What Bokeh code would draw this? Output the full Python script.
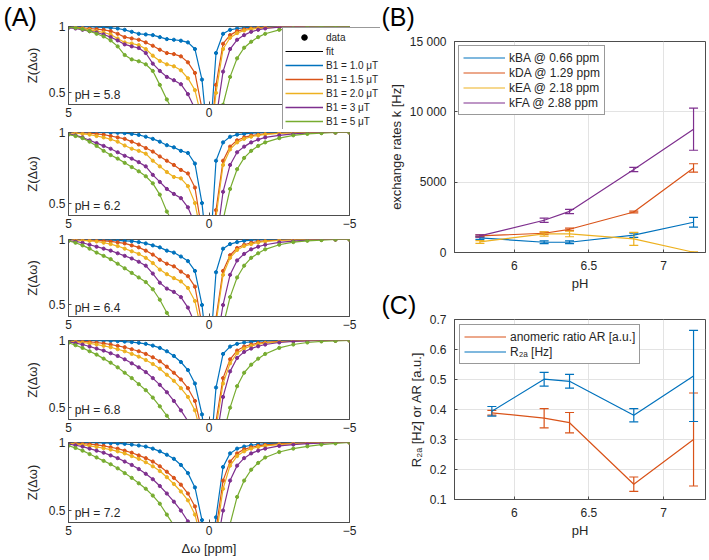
from bokeh.plotting import figure
from bokeh.layouts import row, column
from bokeh.models import (Range1d, Label, Legend, LegendItem, Whisker, TeeHead,
                          ColumnDataSource, FixedTicker)
from bokeh.embed import file_html
from bokeh.resources import INLINE

FONT = "Liberation Sans"
TXT = "#262626"
AXC = "#4d4d4d"

# ---------------- Panel A data ----------------
OFFSETS = [5, 4.75, 4.5, 4.25, 4, 3.75, 3.5, 3.25, 3, 2.75, 2.5, 2.25, 2, 1.75, 1.5,
           1.25, 1, 0.75, 0.5, 0.25, 0,
           -0.25, -0.5, -0.75, -1, -1.25, -1.5, -1.75, -2, -2.5, -3, -3.5, -4, -4.5, -5]
PH_LABELS = ["pH = 5.8", "pH = 6.2", "pH = 6.4", "pH = 6.8", "pH = 7.2"]
B1_LABELS = ["B1 = 1.0 μT", "B1 = 1.5 μT", "B1 = 2.0 μT", "B1 = 3 μT", "B1 = 5 μT"]
COLORS = ["#0072BD", "#D95319", "#EDB120", "#7E2F8E", "#77AC30"]

Z_PH58 = [
    [1.0, 1.0, 1.0, 0.998, 0.995, 0.993, 0.99, 0.985, 0.975, 0.96, 0.945, 0.94, 0.935, 0.92, 0.905, 0.9, 0.893, 0.88, 0.83, 0.6, 0.05,
     0.8, 0.945, 0.975, 0.985, 0.99, 0.995, 0.997, 1.0, 1, 1, 1, 1, 1, 1],
    [0.998, 0.995, 0.99, 0.985, 0.98, 0.975, 0.965, 0.945, 0.92, 0.91, 0.9, 0.88, 0.855, 0.825, 0.8, 0.792, 0.775, 0.73, 0.65, 0.38, 0.03,
     0.56, 0.87, 0.935, 0.965, 0.978, 0.987, 0.992, 0.995, 0.998, 1, 1, 1, 1, 1],
    [0.995, 0.99, 0.985, 0.975, 0.965, 0.955, 0.94, 0.91, 0.88, 0.872, 0.86, 0.83, 0.78, 0.74, 0.715, 0.7, 0.67, 0.61, 0.52, 0.3, 0.02,
     0.5, 0.83, 0.915, 0.95, 0.97, 0.98, 0.986, 0.99, 0.995, 0.998, 1, 1, 1, 1],
    [0.99, 0.985, 0.975, 0.965, 0.955, 0.94, 0.92, 0.895, 0.865, 0.85, 0.838, 0.8, 0.72, 0.665, 0.62, 0.595, 0.565, 0.49, 0.38, 0.2, 0.02,
     0.3, 0.66, 0.83, 0.9, 0.935, 0.96, 0.975, 0.985, 0.995, 0.998, 1, 1, 1, 1],
    [0.995, 0.99, 0.98, 0.965, 0.945, 0.925, 0.895, 0.85, 0.785, 0.752, 0.738, 0.715, 0.665, 0.56, 0.45, 0.35, 0.27, 0.2, 0.12, 0.06, 0.02,
     0.2, 0.41, 0.62, 0.76, 0.84, 0.885, 0.92, 0.945, 0.975, 0.99, 0.995, 1, 1, 1],
]
Z_PH62 = [
    [1, 1, 1, 1, 1, 1, 0.999, 0.998, 0.995, 0.99, 0.983, 0.97, 0.955, 0.935, 0.91, 0.895, 0.87, 0.855, 0.78, 0.5, 0.03,
     0.8, 0.93, 0.97, 0.985, 0.99, 0.995, 0.997, 1, 1, 1, 1, 1, 1, 1],
    [1.0, 0.998, 0.997, 0.995, 0.99, 0.985, 0.975, 0.965, 0.955, 0.935, 0.915, 0.89, 0.865, 0.83, 0.8, 0.77, 0.735, 0.71, 0.61, 0.3, 0.02,
     0.45, 0.8, 0.9, 0.945, 0.965, 0.978, 0.985, 0.99, 0.996, 1, 1, 1, 1, 1],
    [0.998, 0.995, 0.99, 0.985, 0.975, 0.965, 0.952, 0.935, 0.908, 0.885, 0.87, 0.85, 0.8, 0.76, 0.72, 0.685, 0.675, 0.62, 0.5, 0.25, 0.02,
     0.4, 0.77, 0.88, 0.93, 0.955, 0.97, 0.98, 0.987, 0.994, 0.998, 1, 1, 1, 1],
    [0.99, 0.98, 0.965, 0.945, 0.925, 0.905, 0.885, 0.86, 0.835, 0.815, 0.79, 0.76, 0.7, 0.65, 0.6, 0.565, 0.535, 0.47, 0.35, 0.15, 0.01,
     0.2, 0.58, 0.77, 0.86, 0.9, 0.93, 0.95, 0.965, 0.98, 0.99, 0.995, 1, 1, 1],
    [0.985, 0.975, 0.96, 0.935, 0.905, 0.87, 0.84, 0.815, 0.785, 0.755, 0.725, 0.69, 0.64, 0.56, 0.44, 0.35, 0.27, 0.2, 0.12, 0.06, 0.02,
     0.15, 0.38, 0.6, 0.74, 0.82, 0.87, 0.905, 0.93, 0.96, 0.98, 0.99, 0.995, 1, 1],
]
Z_PH64 = [
    [1, 1, 1, 1, 0.998, 0.997, 0.995, 0.993, 0.99, 0.987, 0.98, 0.97, 0.955, 0.94, 0.915, 0.9, 0.87, 0.835, 0.76, 0.5, 0.03,
     0.75, 0.93, 0.965, 0.98, 0.99, 0.995, 0.997, 1, 1, 1, 1, 1, 1, 1],
    [1, 0.999, 0.997, 0.995, 0.993, 0.99, 0.985, 0.978, 0.97, 0.955, 0.94, 0.915, 0.885, 0.845, 0.815, 0.795, 0.755, 0.72, 0.64, 0.35, 0.02,
     0.4, 0.76, 0.88, 0.935, 0.96, 0.975, 0.985, 0.99, 0.996, 1, 1, 1, 1, 1],
    [0.998, 0.996, 0.993, 0.99, 0.985, 0.975, 0.965, 0.95, 0.93, 0.91, 0.89, 0.86, 0.82, 0.77, 0.735, 0.705, 0.68, 0.63, 0.53, 0.28, 0.02,
     0.36, 0.73, 0.86, 0.92, 0.95, 0.965, 0.977, 0.985, 0.993, 0.997, 1, 1, 1, 1],
    [0.99, 0.985, 0.975, 0.96, 0.945, 0.93, 0.915, 0.895, 0.875, 0.855, 0.83, 0.8, 0.74, 0.67, 0.625, 0.6, 0.56, 0.48, 0.36, 0.16, 0.01,
     0.18, 0.5, 0.73, 0.84, 0.89, 0.925, 0.945, 0.96, 0.978, 0.988, 0.995, 1, 1, 1],
    [0.99, 0.975, 0.955, 0.93, 0.9, 0.875, 0.85, 0.815, 0.78, 0.745, 0.71, 0.675, 0.62, 0.54, 0.44, 0.36, 0.28, 0.2, 0.12, 0.06, 0.02,
     0.12, 0.34, 0.56, 0.71, 0.8, 0.86, 0.895, 0.925, 0.96, 0.98, 0.99, 0.995, 1, 1],
]
Z_PH68 = [
    [1, 1, 1, 1, 0.999, 0.998, 0.997, 0.995, 0.992, 0.988, 0.983, 0.975, 0.962, 0.945, 0.92, 0.885, 0.84, 0.78, 0.68, 0.45, 0.03,
     0.65, 0.9, 0.955, 0.975, 0.985, 0.99, 0.995, 0.997, 1, 1, 1, 1, 1, 1],
    [0.998, 0.996, 0.993, 0.99, 0.985, 0.978, 0.97, 0.96, 0.95, 0.935, 0.92, 0.9, 0.875, 0.845, 0.805, 0.76, 0.71, 0.645, 0.55, 0.33, 0.02,
     0.4, 0.72, 0.86, 0.925, 0.955, 0.97, 0.98, 0.986, 0.993, 0.997, 1, 1, 1, 1],
    [0.995, 0.99, 0.985, 0.978, 0.97, 0.96, 0.95, 0.935, 0.92, 0.9, 0.88, 0.855, 0.825, 0.79, 0.745, 0.7, 0.645, 0.58, 0.48, 0.28, 0.02,
     0.35, 0.68, 0.83, 0.905, 0.94, 0.96, 0.972, 0.98, 0.99, 0.995, 1, 1, 1, 1],
    [0.99, 0.98, 0.97, 0.955, 0.94, 0.925, 0.905, 0.885, 0.86, 0.83, 0.8, 0.765, 0.72, 0.67, 0.615, 0.55, 0.48, 0.4, 0.3, 0.15, 0.01,
     0.25, 0.58, 0.77, 0.87, 0.915, 0.94, 0.957, 0.97, 0.985, 0.993, 0.997, 1, 1, 1],
    [0.983, 0.965, 0.945, 0.92, 0.895, 0.865, 0.835, 0.8, 0.76, 0.72, 0.675, 0.63, 0.575, 0.51, 0.44, 0.37, 0.29, 0.21, 0.13, 0.06, 0.02,
     0.1, 0.3, 0.5, 0.66, 0.76, 0.82, 0.865, 0.9, 0.945, 0.97, 0.985, 0.993, 0.997, 1],
]
Z_PH72 = [
    [1, 1, 1, 0.999, 0.998, 0.997, 0.995, 0.993, 0.99, 0.985, 0.978, 0.97, 0.955, 0.935, 0.91, 0.88, 0.835, 0.775, 0.67, 0.43, 0.03,
     0.45, 0.82, 0.92, 0.955, 0.97, 0.98, 0.987, 0.99, 0.995, 1, 1, 1, 1, 1],
    [0.997, 0.995, 0.992, 0.988, 0.982, 0.975, 0.965, 0.955, 0.94, 0.925, 0.905, 0.885, 0.86, 0.825, 0.785, 0.74, 0.69, 0.625, 0.53, 0.32, 0.02,
     0.36, 0.72, 0.86, 0.92, 0.95, 0.965, 0.975, 0.982, 0.99, 0.995, 1, 1, 1, 1],
    [0.993, 0.988, 0.982, 0.975, 0.967, 0.958, 0.948, 0.935, 0.92, 0.9, 0.88, 0.855, 0.825, 0.79, 0.745, 0.695, 0.64, 0.575, 0.47, 0.27, 0.02,
     0.3, 0.66, 0.83, 0.9, 0.935, 0.955, 0.967, 0.975, 0.985, 0.992, 0.996, 1, 1, 1],
    [0.988, 0.98, 0.97, 0.955, 0.94, 0.925, 0.905, 0.885, 0.86, 0.835, 0.805, 0.77, 0.73, 0.68, 0.625, 0.565, 0.5, 0.42, 0.31, 0.15, 0.01,
     0.2, 0.5, 0.72, 0.83, 0.885, 0.92, 0.94, 0.955, 0.975, 0.985, 0.992, 0.996, 1, 1],
    [0.976, 0.96, 0.94, 0.915, 0.89, 0.865, 0.84, 0.81, 0.775, 0.74, 0.7, 0.66, 0.61, 0.55, 0.47, 0.39, 0.31, 0.23, 0.14, 0.07, 0.02,
     0.06, 0.22, 0.4, 0.6, 0.72, 0.8, 0.85, 0.89, 0.93, 0.955, 0.972, 0.985, 0.993, 1.0],
]
Z_ALL = [Z_PH58, Z_PH62, Z_PH64, Z_PH68, Z_PH72]

# ---------------- Panel B data ----------------
PH_B = [5.77, 6.2, 6.37, 6.8, 7.2]
K_LABELS = ["kBA @ 0.66 ppm", "kDA @ 1.29 ppm", "kEA @ 2.18 ppm", "kFA @ 2.88 ppm"]
KBA = [1040, 730, 730, 1230, 2150]
KBA_ERR = [100, 100, 100, 150, 340]
KDA = [1180, 1370, 1650, 2880, 6010]
KDA_ERR = [80, 80, 80, 60, 300]
KEA = [750, 1320, 1320, 970, 20]
KEA_ERR = [100, 150, 200, 460, 30]
KFA = [1180, 2290, 2920, 5900, 8770]
KFA_ERR = [80, 150, 150, 150, 1500]
K_COLORS = ["#0072BD", "#D95319", "#EDB120", "#7E2F8E"]

# ---------------- Panel C data ----------------
PH_C = [5.85, 6.2, 6.37, 6.8, 7.2]
C_LABELS = ["anomeric ratio AR [a.u.]", "R₂ₐ [Hz]"]
AR = [0.389, 0.371, 0.356, 0.151, 0.30]
AR_ERR = [0.008, 0.032, 0.034, 0.024, 0.155]
R2A = [0.394, 0.501, 0.494, 0.381, 0.512]
R2A_ERR = [0.016, 0.023, 0.023, 0.022, 0.152]
C_COLORS = ["#D95319", "#0072BD"]


def style(p, tick_size="12px", label_size="13px", standoff=4):
    for ax in p.axis:
        ax.major_label_text_font = FONT
        ax.major_label_text_font_size = tick_size
        ax.major_label_text_color = TXT
        ax.axis_label_text_font = FONT
        ax.axis_label_text_font_size = label_size
        ax.axis_label_text_font_style = "normal"
        ax.axis_label_text_color = TXT
        ax.axis_line_color = AXC
        ax.major_tick_line_color = AXC
        ax.major_tick_in = 3
        ax.major_tick_out = 0
        ax.minor_tick_line_color = None
        ax.major_label_standoff = standoff
        ax.axis_label_standoff = 3
    p.outline_line_color = AXC
    p.outline_line_width = 1
    p.background_fill_color = "white"
    p.border_fill_color = "white"


def overlay_fig(w, h, left, top):
    f = figure(width=w, height=h, x_range=Range1d(0, 1), y_range=Range1d(0, 1),
               min_border=0, x_axis_location=None, y_axis_location=None,
               toolbar_location=None, output_backend="svg")
    f.grid.visible = False
    f.outline_line_color = None
    f.background_fill_alpha = 0
    f.border_fill_alpha = 0
    f.styles = {"position": "absolute", "left": f"{left}px", "top": f"{top}px", "z-index": "10"}
    return f


def text_fig(text, left, top):
    f = overlay_fig(44, 32, left, top)
    f.add_layout(Label(x=0, y=32, x_units="screen", y_units="screen", text=text,
                       text_font=FONT, text_font_size="25px", text_color="black",
                       text_baseline="top", text_align="left"))
    return f


def error_series(p, xs, vals, errs, col):
    src = ColumnDataSource(dict(x=xs, y=vals,
                                lo=[v - e for v, e in zip(vals, errs)],
                                hi=[v + e for v, e in zip(vals, errs)]))
    r = p.line("x", "y", source=src, line_color=col, line_width=1.2)
    p.add_layout(Whisker(source=src, base="x", upper="hi", lower="lo", line_color=col, line_width=1.2,
                         upper_head=TeeHead(size=9, line_color=col, line_width=1.2),
                         lower_head=TeeHead(size=9, line_color=col, line_width=1.2)))
    return r


def make_legend(items, margin):
    return Legend(items=items, location="top_left", margin=margin, label_text_font=FONT,
                  label_text_font_size="12px", label_text_color=TXT,
                  label_height=15, glyph_height=15, glyph_width=42, spacing=0, padding=4,
                  label_standoff=4, border_line_color="#333333", border_line_width=1,
                  background_fill_color="white", background_fill_alpha=1.0)


# ---------------- Panel A ----------------
A_HEIGHTS = [126, 107, 101, 102, 123]
A_TOP = [26, 6, 6, 6, 6]
A_BOTTOM = [22, 18, 18, 17, 37]
a_figs = []
for i in range(5):
    p = figure(width=385, height=A_HEIGHTS[i], x_range=Range1d(5, -5), y_range=Range1d(0.412, 1.0),
               output_backend="svg", toolbar_location=None,
               min_border_left=68, min_border_right=36,
               min_border_top=A_TOP[i], min_border_bottom=A_BOTTOM[i],
               y_axis_label="Z(Δω)")
    if i == 4:
        p.xaxis.axis_label = "Δω [ppm]"
    p.xaxis.ticker = FixedTicker(ticks=[5, 0, -5])
    p.yaxis.ticker = FixedTicker(ticks=[0.5, 1])
    p.xgrid.visible = False
    p.ygrid.visible = False
    style(p, tick_size="12px", label_size="13px", standoff=3)
    p.yaxis.axis_label_standoff = 6
    for j in range(5):
        src = ColumnDataSource(dict(x=OFFSETS, y=Z_ALL[i][j]))
        p.line("x", "y", source=src, line_color=COLORS[j], line_width=1.2)
        p.scatter("x", "y", source=src, marker="circle", size=3.2,
                  fill_color=COLORS[j], line_color=COLORS[j])
    p.add_layout(Label(x=4.78, y=0.48, text=PH_LABELS[i], text_font=FONT, text_font_size="12px",
                       text_baseline="middle", text_align="left", text_color=TXT))
    a_figs.append(p)

# legend of panel A (it overlaps several panel frames, so it sits in its own overlay canvas)
legA = overlay_fig(98, 102, 282, 27)
dummy_src = ColumnDataSource(dict(x=[-9, -8], y=[-9, -8]))
r_data = legA.scatter("x", "y", source=dummy_src, marker="circle", size=4,
                      fill_color="black", line_color="black")
r_fit = legA.line("x", "y", source=dummy_src, line_color="black", line_width=1.2)
itemsA = [LegendItem(label="data", renderers=[r_data]), LegendItem(label="fit", renderers=[r_fit])]
for j in range(5):
    rr = legA.line("x", "y", source=dummy_src, line_color=COLORS[j], line_width=1.6)
    itemsA.append(LegendItem(label=B1_LABELS[j], renderers=[rr]))
legA.add_layout(Legend(items=itemsA, location="top_left", margin=0, label_text_font=FONT,
                       label_text_font_size="10px", label_text_color=TXT,
                       label_height=14, glyph_height=14, glyph_width=38, spacing=0,
                       padding=2, label_standoff=3,
                       border_line_color="#333333", border_line_width=1,
                       background_fill_color="white", background_fill_alpha=1.0))

# ---------------- Panel B ----------------
pB = figure(width=324, height=293, x_range=Range1d(5.6, 7.28), y_range=Range1d(0, 15000),
            output_backend="svg", toolbar_location=None,
            min_border_left=63, min_border_right=4, min_border_top=41, min_border_bottom=40,
            x_axis_label="pH", y_axis_label="exchange rates k [Hz]")
pB.xaxis.ticker = FixedTicker(ticks=[6, 6.5, 7])
pB.yaxis.ticker = FixedTicker(ticks=[0, 5000, 10000, 15000])
pB.yaxis.major_label_overrides = {10000: "10 000", 15000: "15 000"}
style(pB, standoff=8)
pB.grid.grid_line_color = "#e3e3e3"
b_items = []
for lab, vals, errs, col in zip(K_LABELS, [KBA, KDA, KEA, KFA], [KBA_ERR, KDA_ERR, KEA_ERR, KFA_ERR], K_COLORS):
    r = error_series(pB, PH_B, vals, errs, col)
    b_items.append(LegendItem(label=lab, renderers=[r]))
pB.add_layout(make_legend(b_items, 4))

# ---------------- Panel C ----------------
pC = figure(width=324, height=266, x_range=Range1d(5.6, 7.28), y_range=Range1d(0.1, 0.7),
            output_backend="svg", toolbar_location=None,
            min_border_left=63, min_border_right=4, min_border_top=26, min_border_bottom=60,
            x_axis_label="pH", y_axis_label="R₂ₐ [Hz] or AR [a.u.]")
pC.xaxis.ticker = FixedTicker(ticks=[6, 6.5, 7])
pC.yaxis.ticker = FixedTicker(ticks=[0.1, 0.2, 0.3, 0.4, 0.5, 0.6, 0.7])
style(pC, standoff=8)
pC.grid.grid_line_color = "#e3e3e3"
c_items = []
for lab, vals, errs, col in zip(C_LABELS, [AR, R2A], [AR_ERR, R2A_ERR], C_COLORS):
    r = error_series(pC, PH_C, vals, errs, col)
    c_items.append(LegendItem(label=lab, renderers=[r]))
pC.add_layout(make_legend(c_items, 5))

labA = text_fig("(A)", 3, 2)
labB = text_fig("(B)", 381, 2)
labC = text_fig("(C)", 381, 290)

layout = row(column(*a_figs), column(pB, pC), legA, labA, labB, labC)
open("out.html", "w").write(file_html(layout, INLINE, title="Z-spectra and exchange rates"))
